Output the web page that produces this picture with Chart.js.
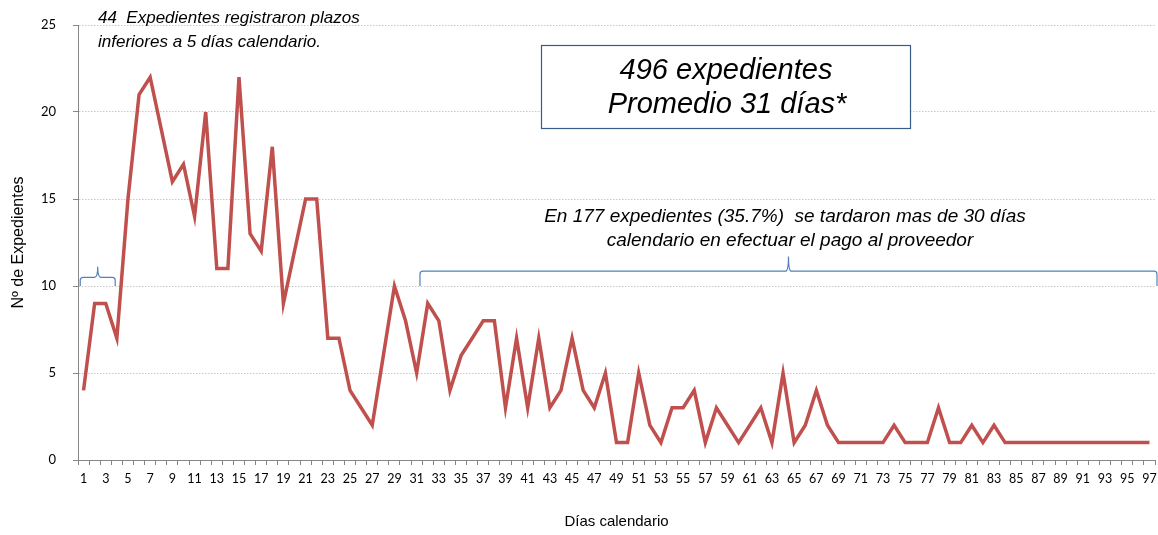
<!DOCTYPE html>
<html>
<head>
<meta charset="utf-8">
<script src="https://cdn.jsdelivr.net/npm/chart.js@4"></script>
<style>
  html, body { margin: 0; padding: 0; background: #fff; }
  #wrap { width: 1158px; height: 535px; }
</style>
</head>
<body>
<div id="wrap"><canvas id="diasChart" width="1158" height="535"></canvas></div>
<script>
// dias calendario 1..97
const dias = [];
for (let d = 1; d <= 97; d++) dias.push(String(d));

const expedientes = [
    4, 9, 9, 7, 15, 21, 22, 19, 16, 17,
    14, 20, 11, 11, 22, 13, 12, 18, 9, 12,
    15, 15, 7, 7, 4, 3, 2, 6, 10, 8,
    5, 9, 8, 4, 6, 7, 8, 8, 3, 7,
    3, 7, 3, 4, 7, 4, 3, 5, 1, 1,
    5, 2, 1, 3, 3, 4, 1, 3, 2, 1,
    2, 3, 1, 5, 1, 2, 4, 2, 1, 1,
    1, 1, 1, 2, 1, 1, 1, 3, 1, 1,
    2, 1, 2, 1, 1, 1, 1, 1, 1, 1,
    1, 1, 1, 1, 1, 1, 1
];

const yTicks = [0, 5, 10, 15, 20, 25];

const notaCorta = ['44  Expedientes registraron plazos', 'inferiores a 5 días calendario.'];
const notaLarga = ['En 177 expedientes (35.7%)  se tardaron mas de 30 días', 'calendario en efectuar el pago al proveedor'];
const recuadro = ['496 expedientes', 'Promedio 31 días*'];

const braceColor = '#4F81BD';

function drawBrace(ctx, x1, x2, yBase, yBar, yTip) {
    const xm = (x1 + x2) / 2;
    const r = 3;
    ctx.beginPath();
    ctx.moveTo(x1, yBase);
    ctx.lineTo(x1, yBar + r);
    ctx.quadraticCurveTo(x1, yBar, x1 + r, yBar);
    ctx.lineTo(xm - r, yBar);
    ctx.quadraticCurveTo(xm, yBar, xm, yTip);
    ctx.quadraticCurveTo(xm, yBar, xm + r, yBar);
    ctx.lineTo(x2 - r, yBar);
    ctx.quadraticCurveTo(x2, yBar, x2, yBar + r);
    ctx.lineTo(x2, yBase);
    ctx.stroke();
}

const notas = {
    id: 'notas',
    afterDraw(chart) {
        const ctx = chart.ctx;
        const x = chart.scales.x;
        const y = chart.scales.y;
        ctx.save();

        // llaves
        ctx.strokeStyle = braceColor;
        ctx.lineWidth = 1.2;
        drawBrace(ctx, x.getPixelForValue(-0.3), x.getPixelForValue(2.85),
            y.getPixelForValue(10), y.getPixelForValue(10.5), y.getPixelForValue(11.1));
        drawBrace(ctx, x.getPixelForValue(30.3), chart.width - 1,
            y.getPixelForValue(10), y.getPixelForValue(10.85), y.getPixelForValue(11.7));

        // textos
        ctx.fillStyle = '#000';
        ctx.textBaseline = 'middle';
        ctx.font = 'italic 17px "Liberation Sans", Arial, sans-serif';
        ctx.textAlign = 'left';
        ctx.fillText(notaCorta[0], 98, 18);
        ctx.fillText(notaCorta[1], 98, 42);

        ctx.textAlign = 'center';
        ctx.font = 'italic 19px "Liberation Sans", Arial, sans-serif';
        ctx.fillText(notaLarga[0], 785, 217);
        ctx.fillText(notaLarga[1], 790, 241);

        // recuadro
        ctx.strokeStyle = '#385D8A';
        ctx.lineWidth = 1.2;
        ctx.fillStyle = '#fff';
        ctx.fillRect(541, 45, 369, 83);
        ctx.strokeRect(541.5, 45.5, 369, 83);
        ctx.fillStyle = '#000';
        ctx.font = 'italic 29px "Liberation Sans", Arial, sans-serif';
        ctx.fillText(recuadro[0], 726, 71);
        ctx.fillText(recuadro[1], 727, 105);

        ctx.restore();
    }
};

new Chart(document.getElementById('diasChart'), {
    type: 'line',
    data: {
        labels: dias,
        datasets: [{
            label: 'Expedientes',
            data: expedientes,
            borderColor: '#C0504D',
            borderWidth: 3.5,
            pointRadius: 0,
            tension: 0,
            fill: false
        }]
    },
    options: {
        responsive: false,
        animation: false,
        layout: { padding: { top: 25, right: 3, left: 0, bottom: 0 } },
        plugins: {
            legend: { display: false },
            tooltip: { enabled: false }
        },
        scales: {
            x: {
                offset: true,
                grid: {
                    offset: true,
                    drawOnChartArea: false,
                    drawTicks: true,
                    tickLength: 5,
                    color: '#868686'
                },
                border: { color: '#868686', width: 1 },
                ticks: {
                    autoSkip: false,
                    maxRotation: 0,
                    minRotation: 0,
                    padding: 6,
                    color: '#000',
                    font: { family: 'Lato, "Open Sans", sans-serif', size: 12.5 },
                    callback: function(val, i) { return i % 2 === 0 ? dias[i] : ''; }
                },
                title: {
                    display: true,
                    text: 'Días calendario',
                    color: '#000',
                    font: { family: '"Liberation Sans", Arial, sans-serif', size: 15 },
                    padding: { top: 16 }
                },
                afterFit: function(s) {
                    s.height = 75;
                    s.paddingRight = 0;
                    s.paddingLeft = 0;
                }
            },
            y: {
                min: 0,
                max: 25,
                afterBuildTicks: function(s) { s.ticks = yTicks.map(v => ({ value: v })); },
                grid: {
                    color: '#C8C8C8',
                    tickColor: '#868686',
                    tickLength: 5,
                    tickBorderDash: []
                },
                border: { color: '#868686', width: 1, dash: [1.5, 1.5] },
                ticks: {
                    padding: 17,
                    color: '#000',
                    font: { family: 'Lato, "Open Sans", sans-serif', size: 13 }
                },
                title: {
                    display: true,
                    text: 'Nº de Expedientes',
                    color: '#000',
                    font: { family: '"Liberation Sans", Arial, sans-serif', size: 16 },
                    padding: { top: 9, bottom: 0 }
                },
                afterFit: function(s) { s.width = 78; }
            }
        }
    },
    plugins: [notas]
});
</script>
</body>
</html>
